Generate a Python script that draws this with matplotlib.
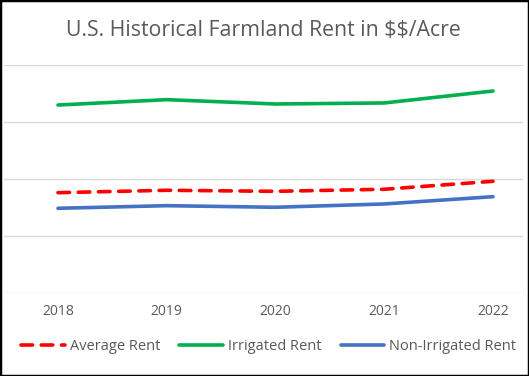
import matplotlib.pyplot as plt
from matplotlib.patches import Rectangle

plt.rcParams['font.family'] = ['Open Sans', 'DejaVu Sans']

### data (no y labels shown, scale 0-200)
years = [2018, 2019, 2020, 2021, 2022]
average_rent = [88.0, 90.1, 89.2, 91.0, 98.0]
irrigated_rent = [164.9, 169.6, 165.8, 166.7, 177.2]
non_irrigated_rent = [74.3, 76.6, 75.2, 78.1, 84.5]

title = 'U.S. Historical Farmland Rent in $$/Acre'
txt_col = '#595959'
grid_col = '#d9d9d9'

fig = plt.figure(figsize=(5.29, 3.76), dpi=100)
ax = fig.add_axes([4/529, 83/376, 519/529, 228/376])

ax.plot(years, average_rent, color='#ff0000', lw=2.6, ls=(0, (3.2, 2.4)),
        dash_capstyle='round', label='Average Rent', zorder=3)
ax.plot(years, irrigated_rent, color='#00b050', lw=2.6,
        solid_capstyle='round', label='Irrigated Rent', zorder=3)
ax.plot(years, non_irrigated_rent, color='#4472c4', lw=2.6,
        solid_capstyle='round', label='Non-Irrigated Rent', zorder=3)

ax.set_xlim(2018 - 54/108.75, 2022 + 30/108.75)
ax.set_ylim(0, 200)
ax.set_yticks([0, 50, 100, 150, 200])
ax.set_yticklabels([])
ax.set_xticks(years)
ax.set_xticklabels([str(y) for y in years])
ax.tick_params(axis='x', length=0, pad=8, labelsize=10, labelcolor=txt_col)
ax.tick_params(axis='y', length=0)
ax.grid(True, axis='y', color=grid_col, lw=1)
for s in ax.spines.values():
    s.set_visible(False)

# no mathtext for the dollar signs
fig.text(0.497, 1 - 31/376, title, ha='center', va='center',
         fontsize=15.3, color=txt_col, parse_math=False)

leg = fig.legend(loc='center', bbox_to_anchor=(0.508, 1 - 347/376), ncol=3,
                 frameon=False, fontsize=10.5, handlelength=3.0,
                 handletextpad=0.35, columnspacing=1.3)
for t in leg.get_texts():
    t.set_color(txt_col)

fig.patches.append(Rectangle((0, 0), 1, 1, transform=fig.transFigure,
                             fill=False, ec='black', lw=2.5))

plt.savefig('out.png', dpi=100)
